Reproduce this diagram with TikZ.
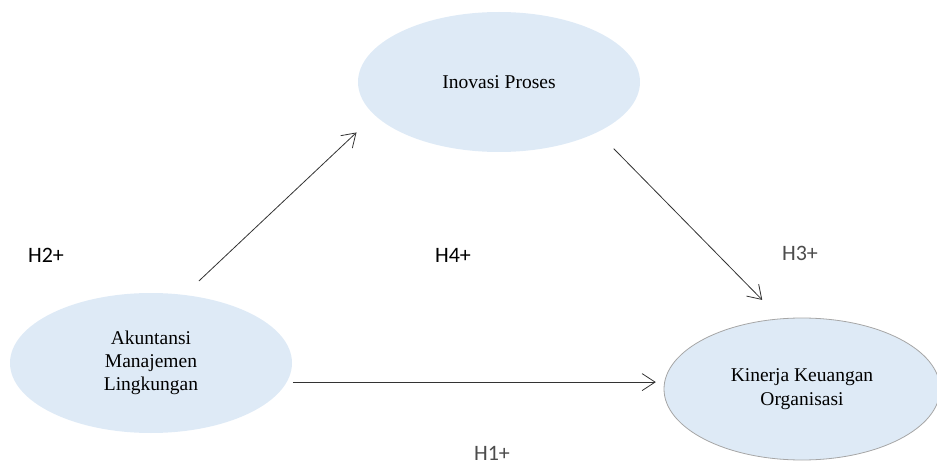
\documentclass[tikz,border=0pt]{standalone}
\usepackage{fontspec}
\setmainfont{Liberation Serif}
\newfontfamily\hypfont{Carlito}
\usetikzlibrary{shapes.geometric,arrows.meta}
\definecolor{skyfill}{HTML}{DEEAF6}
\definecolor{rimgray}{HTML}{A6A6A6}
\begin{document}
\begin{tikzpicture}[x=1pt,y=-1pt]
	\tikzstyle{construct} = [
		ellipse, fill=skyfill, draw=none,
		minimum width=282pt, minimum height=140pt, inner sep=0pt,
		align=center, font={\fontsize{19.5}{23.3}\selectfont}];
	\tikzstyle{outcome} = [
		construct, draw=rimgray, line width=0.8pt,
		minimum width=276pt, minimum height=142pt];

	\tikzstyle{link} = [
		line width=0.8pt, draw=black!80,
		-{Straight Barb[length=13pt,width=17pt,line width=0.8pt]}];
	\tikzstyle{hyp} = [
		inner sep=0pt, font={\hypfont\fontsize{22}{26}\selectfont}];

	\useasboundingbox (0,0) rectangle (937,465);

	\node[construct] (ip) at (499,82) {Inovasi Proses};
	\node[construct] (aml) at (151,363) {Akuntansi\\Manajemen\\Lingkungan};
	\node[outcome] (kko) at (802,389) {Kinerja Keuangan\\Organisasi};

	\draw[link, shorten <=20pt, shorten >=25pt]
		(aml.64.7) to (ip.195.4);
	\draw[link, shorten <=23pt, shorten >=26pt]
		(ip.333.7) to (kko.107.4);
	\draw[link, shorten <=6pt, shorten >=8.5pt]
		(aml.-8.4) to (kko.177.5 |- aml.-8.4);

	\node[hyp] (h2) at (46,255) {H2+};
	\node[hyp] (h4) at (453,255) {H4+};
	\node[hyp, text=black!70] (h3) at (800,253) {H3+};
	\node[hyp, text=black!70] (h1) at (492,453) {H1+};
\end{tikzpicture}
\end{document}
